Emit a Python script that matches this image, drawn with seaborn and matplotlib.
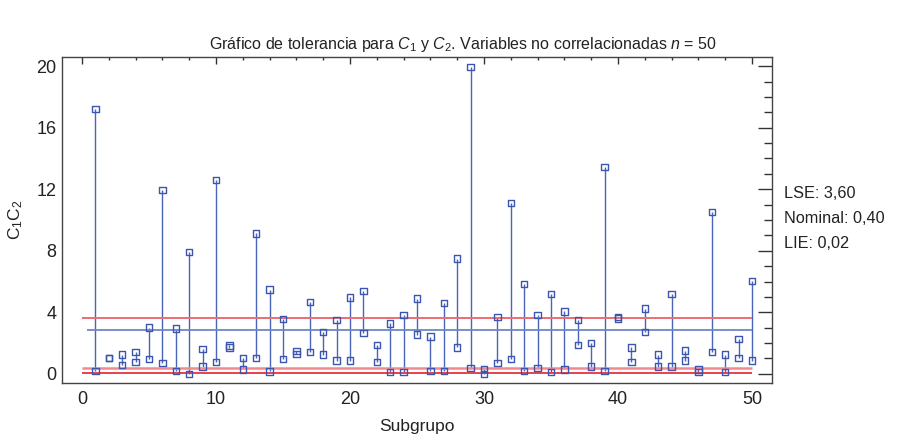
import numpy as np
import pandas as pd
import matplotlib
matplotlib.use("Agg")
import matplotlib.pyplot as plt
import seaborn as sns
from matplotlib.ticker import MultipleLocator

# ---- data ----
subgroups = list(range(1, 51))
c1 = [17.2, 1.04, 1.25, 1.43, 3.0, 11.95, 2.94, 7.9, 1.6, 12.6,
      1.85, 1.04, 9.13, 5.47, 3.57, 1.5, 4.67, 2.7, 3.48, 4.97,
      5.37, 1.86, 3.27, 3.83, 4.89, 2.42, 4.6, 7.49, 19.93, 0.32,
      3.68, 11.1, 5.82, 3.83, 5.17, 4.05, 3.48, 1.99, 13.46, 3.7,
      1.71, 4.24, 1.25, 5.17, 1.51, 0.28, 10.52, 1.25, 2.27, 6.04]
c2 = [0.2, 1.04, 0.58, 0.75, 0.97, 0.69, 0.2, 0.0, 0.47, 0.75,
      1.7, 0.28, 1.04, 0.15, 0.97, 1.3, 1.4, 1.25, 0.86, 0.86,
      2.64, 0.75, 0.13, 0.13, 2.55, 0.2, 0.2, 1.71, 0.39, 0.0,
      0.69, 0.97, 0.2, 0.39, 0.13, 0.28, 1.88, 0.47, 0.2, 3.6,
      0.75, 2.73, 0.47, 0.47, 0.86, 0.13, 1.43, 0.13, 1.04, 0.86]
lse = 3.60
nominal = 0.40
lie = 0.02
center = 2.82
limit_labels = ["LSE: 3,60", "Nominal: 0,40", "LIE: 0,02"]

df = pd.DataFrame({"Subgrupo": subgroups * 2, "valor": c1 + c2,
                   "serie": ["C1"] * 50 + ["C2"] * 50})

sns.set_theme(style="white")
plt.rcParams["font.family"] = ["Liberation Sans", "DejaVu Sans"]
plt.rcParams["mathtext.fontset"] = "custom"
plt.rcParams["mathtext.rm"] = "Liberation Sans"
plt.rcParams["mathtext.it"] = "Liberation Sans:italic"

fig = plt.figure(figsize=(8.99, 4.38), dpi=100)
ax = fig.add_axes([62 / 899, 1 - 383 / 438, 710 / 899, 326 / 438])

blue = "#3a56b0"
# connectors
ax.vlines(subgroups, c2, c1, color="#4a64b8", linewidth=1.0, zorder=2)
# limit lines
ax.hlines(center, 0.4, 50, color="#6f86c6", linewidth=1.3, zorder=3)
ax.hlines(lse, 0, 50, color="#ee6d73", linewidth=1.4, zorder=3)
ax.hlines(nominal, 0, 50, color="#f08a8f", linewidth=1.8, zorder=3)
ax.hlines(lie, 0, 50, color="#e8202c", linewidth=1.2, zorder=3)
# markers
sns.scatterplot(data=df, x="Subgrupo", y="valor", marker="s", s=21,
                facecolor="none", edgecolor=blue, linewidth=1.0,
                legend=False, ax=ax, zorder=4)

ax.set_xlim(-1.5, 51.5)
ax.set_ylim(-0.6, 20.6)
ax.xaxis.set_major_locator(MultipleLocator(10))
ax.xaxis.set_minor_locator(MultipleLocator(2))
ax.yaxis.set_major_locator(MultipleLocator(4))
ax.yaxis.set_minor_locator(MultipleLocator(1))
ax.tick_params(axis="both", which="both", direction="in", top=True, right=True,
               colors="#333333", labelcolor="#222222", labelsize=13)
ax.tick_params(axis="y", which="major", length=10, width=1, pad=4)
ax.tick_params(axis="y", which="minor", length=5.5, width=1)
ax.tick_params(axis="x", which="major", length=5, width=1, pad=6)
ax.tick_params(axis="x", which="minor", length=2.5, width=1)
for sp in ax.spines.values():
    sp.set_color("#444444")
    sp.set_linewidth(1.0)

ax.set_xlabel("Subgrupo", fontsize=12.5, color="#222222", labelpad=8)
ax.set_ylabel(r"$\mathrm{C}_1\mathrm{C}_2$", fontsize=12.5, color="#222222", labelpad=8)

fig.text(463 / 899, 1 - 45 / 438,
         r"Gráfico de tolerancia para $C_1$ y $C_2$. Variables no correlacionadas $n$ = 50",
         ha="center", va="center", fontsize=11.5, color="#222222")
for i, t in enumerate(limit_labels):
    fig.text(784 / 899, 1 - (193 + 25.5 * i) / 438, t, ha="left", va="center",
             fontsize=11.7, color="#222222")

fig.savefig("out.png", dpi=100)
